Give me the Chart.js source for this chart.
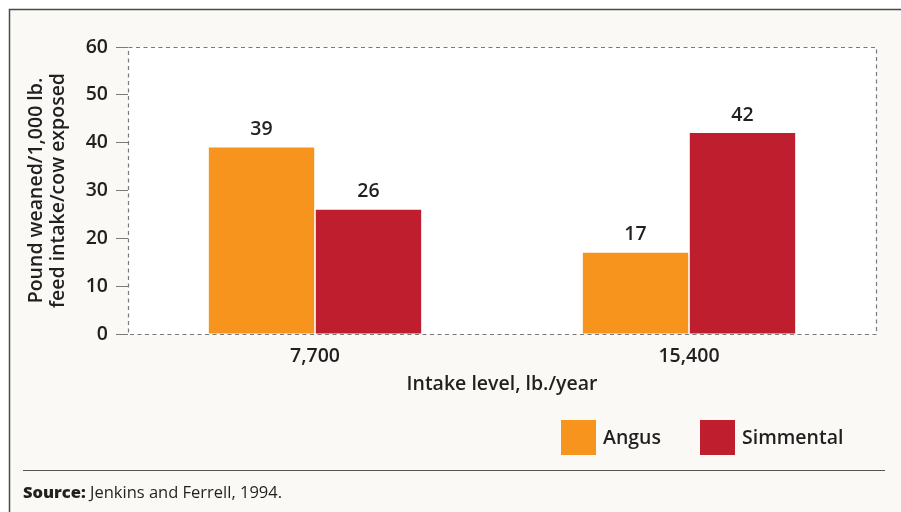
<!DOCTYPE html>
<html>
<head>
<meta charset="utf-8">
<script src="https://cdn.jsdelivr.net/npm/chart.js@4"></script>
<style>
  html, body { margin: 0; padding: 0; background: #ffffff; }
  #wrap { width: 901px; height: 512px; position: relative; }
</style>
</head>
<body>
<div id="wrap"><canvas id="c" width="901" height="512"></canvas></div>
<script>
const categories = ["7,700", "15,400"];
const angus = [39, 17];
const simmental = [26, 42];
const seriesNames = ["Angus", "Simmental"];
const yTicks = [0, 10, 20, 30, 40, 50, 60];
const yTitle = ["Pound weaned/1,000 lb.", "feed intake/cow exposed"];
const xTitle = "Intake level, lb./year";
const sourceBold = "Source:";
const sourceText = " Jenkins and Ferrell, 1994.";

const FONT = "'Open Sans', 'Noto Sans', sans-serif";
const W = 600;
const FS = 19.5;
const TXT = "#231f20";
const colors = ["#f7941d", "#be1e2d"];

const framePlugin = {
  id: 'frame',
  beforeDraw(chart) {
    const ctx = chart.ctx;
    const ca = chart.chartArea;
    ctx.save();
    ctx.fillStyle = "#ffffff";
    ctx.fillRect(0, 0, chart.width, chart.height);
    ctx.fillStyle = "#faf9f6";
    ctx.fillRect(9, 9, chart.width - 9, chart.height - 9);
    ctx.strokeStyle = "#4a4a4a";
    ctx.lineWidth = 1.5;
    ctx.beginPath();
    ctx.moveTo(9.5, chart.height);
    ctx.lineTo(9.5, 9.5);
    ctx.lineTo(chart.width, 9.5);
    ctx.stroke();
    ctx.fillStyle = "#ffffff";
    ctx.fillRect(ca.left, ca.top, ca.right - ca.left, ca.bottom - ca.top);
    ctx.restore();
  },
  afterDatasetsDraw(chart) {
    const ctx = chart.ctx;
    const ca = chart.chartArea;
    ctx.save();
    ctx.strokeStyle = "#7a7a7a";
    ctx.lineWidth = 1.2;
    ctx.setLineDash([4, 3.5]);
    ctx.strokeRect(ca.left + 0.5, ca.top + 0.5, ca.right - ca.left, ca.bottom - ca.top);
    ctx.setLineDash([]);
    ctx.fillStyle = TXT;
    ctx.font = W + " " + FS + "px " + FONT;
    ctx.textAlign = "center";
    ctx.textBaseline = "middle";
    chart.data.datasets.forEach((ds, i) => {
      const meta = chart.getDatasetMeta(i);
      meta.data.forEach((bar, j) => {
        ctx.fillText(String(ds.data[j]), bar.x, bar.y - 18);
      });
    });
    const lx = [561, 700];
    chart.data.datasets.forEach((ds, i) => {
      ctx.fillStyle = ds.backgroundColor;
      ctx.fillRect(lx[i], 420, 35, 35);
      ctx.fillStyle = TXT;
      ctx.font = W + " " + FS + "px " + FONT;
      ctx.textAlign = "left";
      ctx.fillText(ds.label, lx[i] + 42, 438);
    });
    ctx.strokeStyle = "#555555";
    ctx.lineWidth = 1;
    ctx.beginPath();
    ctx.moveTo(23, 470.5);
    ctx.lineTo(885, 470.5);
    ctx.stroke();
    ctx.textBaseline = "alphabetic";
    ctx.font = "800 16.5px " + FONT;
    ctx.fillText(sourceBold, 23, 498);
    const w = ctx.measureText(sourceBold).width;
    ctx.font = "400 16.5px " + FONT;
    ctx.fillText(sourceText, 23 + w, 498);
    ctx.restore();
  }
};

new Chart(document.getElementById('c'), {
  type: 'bar',
  data: {
    labels: categories,
    datasets: [
      { label: seriesNames[0], data: angus, backgroundColor: colors[0], borderWidth: 0,
        categoryPercentage: 0.572, barPercentage: 0.985 },
      { label: seriesNames[1], data: simmental, backgroundColor: colors[1], borderWidth: 0,
        categoryPercentage: 0.572, barPercentage: 0.985 }
    ]
  },
  options: {
    responsive: false,
    animation: false,
    devicePixelRatio: 1,
    layout: { padding: { left: 0, top: 47, right: 25, bottom: 108 } },
    plugins: { legend: { display: false }, tooltip: { enabled: false } },
    scales: {
      x: {
        grid: { display: false, drawTicks: false },
        border: { display: false },
        ticks: { color: TXT, font: { family: FONT, size: FS, weight: W, lineHeight: 1.2 }, padding: 11 },
        title: { display: true, text: xTitle, color: TXT,
                 font: { family: FONT, size: FS, weight: W, lineHeight: 1.15 },
                 padding: { top: 0, bottom: 8 } },
        afterFit(scale) { scale.height = 70; }
      },
      y: {
        min: 0, max: 60,
        afterBuildTicks(scale) { scale.ticks = yTicks.map(v => ({ value: v })); },
        grid: { drawOnChartArea: false, drawTicks: true, tickLength: 12, color: "#7a7a7a", lineWidth: 1 },
        border: { display: false },
        ticks: { color: TXT, font: { family: FONT, size: FS, weight: W }, padding: 8 },
        title: { display: true, text: yTitle, color: TXT,
                 font: { family: FONT, size: FS, weight: W, lineHeight: 1.15 },
                 padding: { top: 25, bottom: 0 } },
        afterFit(scale) { scale.width = 128; }
      }
    }
  },
  plugins: [framePlugin]
});
</script>
</body>
</html>
